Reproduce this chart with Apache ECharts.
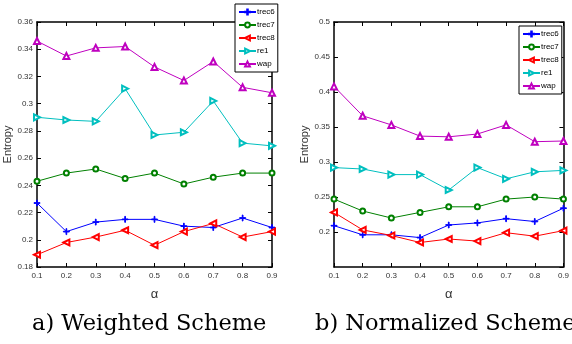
<!DOCTYPE html>
<html>
<head>
<meta charset="utf-8">
<script src="https://cdn.jsdelivr.net/npm/echarts@6/dist/echarts.min.js"></script>
<style>
html, body { margin: 0; padding: 0; background: #fff; }
#chart { width: 572px; height: 344px; }
</style>
</head>
<body>
<div id="chart"></div>
<script>
var alphas = ['0.1', '0.2', '0.3', '0.4', '0.5', '0.6', '0.7', '0.8', '0.9'];
var seriesNames = ['trec6', 'trec7', 'trec8', 're1', 'wap'];

// a) weighted scheme
var wTrec6 = [0.227, 0.206, 0.213, 0.215, 0.215, 0.210, 0.209, 0.216, 0.209];
var wTrec7 = [0.243, 0.249, 0.252, 0.245, 0.249, 0.241, 0.246, 0.249, 0.249];
var wTrec8 = [0.189, 0.198, 0.202, 0.207, 0.196, 0.206, 0.212, 0.202, 0.206];
var wRe1 = [0.290, 0.288, 0.287, 0.311, 0.277, 0.279, 0.302, 0.271, 0.269];
var wWap = [0.346, 0.335, 0.341, 0.342, 0.327, 0.317, 0.331, 0.312, 0.308];

// b) normalized scheme
var nTrec6 = [0.209, 0.196, 0.196, 0.192, 0.210, 0.213, 0.219, 0.215, 0.234];
var nTrec7 = [0.247, 0.230, 0.220, 0.228, 0.236, 0.236, 0.247, 0.250, 0.247];
var nTrec8 = [0.228, 0.203, 0.195, 0.185, 0.190, 0.187, 0.199, 0.194, 0.202];
var nRe1 = [0.292, 0.290, 0.282, 0.282, 0.260, 0.292, 0.276, 0.286, 0.288];
var nWap = [0.408, 0.366, 0.353, 0.337, 0.336, 0.340, 0.353, 0.329, 0.330];

var colors = ['#0000ff', '#008000', '#ff0000', '#00bfbf', '#bf00bf'];
var plusPath = 'path://M4.4,0h1.2v4.4h4.4v1.2h-4.4v4.4h-1.2v-4.4h-4.4v-1.2h4.4z';
var marks = [
	{ symbol: plusPath, rotate: 0, size: 6 },
	{ symbol: 'emptyCircle', rotate: 0, size: 5 },
	{ symbol: 'emptyTriangle', rotate: 90, size: 6 },
	{ symbol: 'emptyTriangle', rotate: -90, size: 6 },
	{ symbol: 'emptyTriangle', rotate: 0, size: 6 }
];

var labelFont = { color: '#333', fontSize: 8, fontFamily: 'Liberation Sans' };

function makeX(gridIndex, pos) {
	return {
		type: 'category',
		gridIndex: gridIndex,
		position: pos,
		data: alphas,
		boundaryGap: false,
		name: pos === 'bottom' ? 'α' : '',
		nameLocation: 'middle',
		nameGap: 21,
		nameTextStyle: { fontSize: 13, color: '#333', fontFamily: 'Liberation Sans' },
		axisLine: { lineStyle: { color: '#000', width: 1.5 } },
		axisTick: { inside: true, length: 4, lineStyle: { color: '#000' } },
		axisLabel: pos === 'bottom' ? Object.assign({ margin: 5 }, labelFont) : { show: false },
		splitLine: { show: false }
	};
}

function makeY(gridIndex, pos, min, max, step, hideMin) {
	return {
		type: 'value',
		gridIndex: gridIndex,
		position: pos,
		min: min,
		max: max,
		interval: step,
		name: pos === 'left' ? 'Entropy' : '',
		nameLocation: 'middle',
		nameGap: 22,
		nameTextStyle: { fontSize: 11, color: '#333', fontFamily: 'Liberation Sans' },
		axisLine: { show: true, lineStyle: { color: '#000', width: 1.5 } },
		axisTick: { show: true, inside: true, length: 4, lineStyle: { color: '#000' } },
		axisLabel: pos === 'left' ? Object.assign({ margin: 4, showMinLabel: !hideMin }, labelFont) : { show: false },
		splitLine: { show: false }
	};
}

function makeSeries(gridIndex, lists) {
	return lists.map(function (vals, i) {
		return {
			name: seriesNames[i],
			type: 'line',
			xAxisIndex: gridIndex * 2,
			yAxisIndex: gridIndex * 2,
			data: vals,
			symbol: marks[i].symbol,
			symbolSize: marks[i].size,
			symbolRotate: marks[i].rotate,
			showAllSymbol: true,
			lineStyle: { color: colors[i], width: 1 },
			itemStyle: { color: colors[i], borderColor: colors[i], borderWidth: 1 },
			emphasis: { disabled: true },
			z: 3
		};
	});
}

function makeLegend(left, top) {
	return {
		left: left,
		top: top,
		orient: 'vertical',
		data: seriesNames,
		itemWidth: 17,
		itemHeight: 6,
		itemGap: 5,
		padding: [4, 3, 4, 3],
		backgroundColor: '#fff',
		borderColor: '#000',
		borderWidth: 1,
		textStyle: { fontSize: 8, color: '#000', fontFamily: 'Liberation Sans', padding: [0, 0, 0, -4] },
		selectedMode: false
	};
}

var chart = echarts.init(document.getElementById('chart'));
var option = {
	animation: false,
	color: colors,
	grid: [
		{ left: 37, top: 22, width: 235, height: 245 },
		{ left: 334, top: 22, width: 234, height: 245 }
	],
	xAxis: [makeX(0, 'bottom'), makeX(0, 'top'), makeX(1, 'bottom'), makeX(1, 'top')],
	yAxis: [
		makeY(0, 'left', 0.18, 0.36, 0.02, false),
		makeY(0, 'right', 0.18, 0.36, 0.02, false),
		makeY(1, 'left', 0.15, 0.5, 0.05, true),
		makeY(1, 'right', 0.15, 0.5, 0.05, true)
	],
	legend: [makeLegend(235, 4), makeLegend(519, 26)],
	series: makeSeries(0, [wTrec6, wTrec7, wTrec8, wRe1, wWap])
		.concat(makeSeries(1, [nTrec6, nTrec7, nTrec8, nRe1, nWap])),
	graphic: [
		{ type: 'text', left: 32, top: 313, style: { text: 'a) Weighted Scheme', fontSize: 22.5, fontFamily: 'DejaVu Serif', fill: '#000' } },
		{ type: 'text', left: 315, top: 313, style: { text: 'b) Normalized Scheme', fontSize: 22.5, fontFamily: 'DejaVu Serif', fill: '#000' } }
	]
};
chart.setOption(option);
</script>
</body>
</html>
